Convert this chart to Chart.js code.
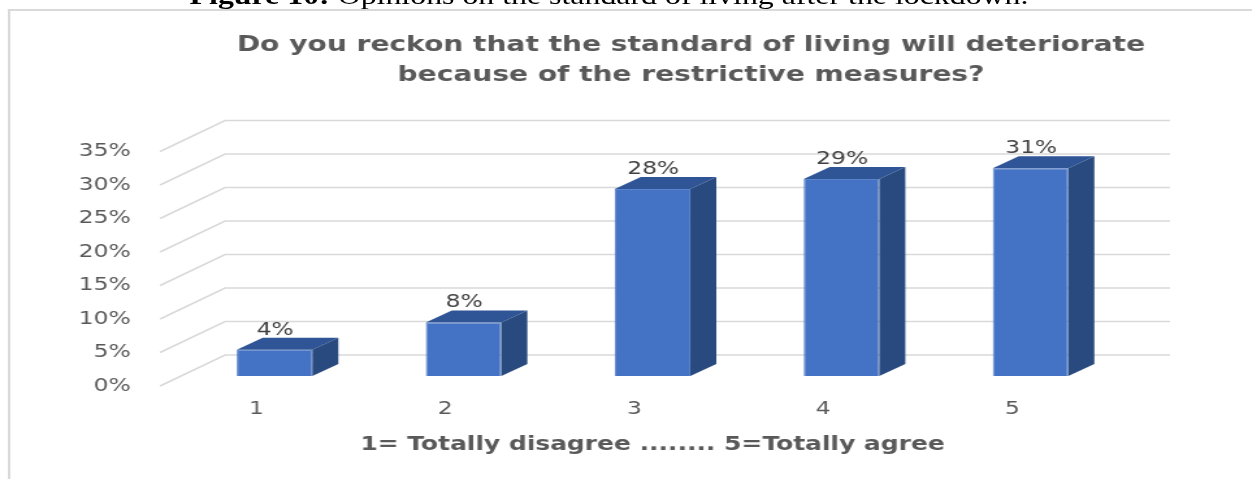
<!DOCTYPE html>
<html>
<head>
<meta charset="utf-8">
<script src="https://cdn.jsdelivr.net/npm/chart.js@4.4.1/dist/chart.umd.min.js"></script>
<style>
    html, body { margin: 0; padding: 0; background: #fff; overflow: hidden; }
    /* a imagem original está esticada na horizontal, por isso o palco é esticado também */
    #palco { position: absolute; left: 0; top: 0; width: 963px; height: 479px; transform: scaleX(1.3); transform-origin: 0 0; }
    #legenda { position: absolute; left: -13px; top: -16.5px; width: 963px; text-align: center; font: 24.5px/24.5px "Liberation Serif", serif; color: #000; white-space: nowrap; }
    #moldura { position: absolute; left: 6px; top: 9px; right: 0; bottom: 0; border-left: 2px solid #d9d9d9; border-top: 2px solid #d9d9d9; }
    /* a caixa passa da borda direita para o título ficar centrado como no original */
    #caixa { position: absolute; left: 0; top: 0; width: 1063px; height: 479px; }
</style>
</head>
<body>
<div id="palco">
    <div id="legenda"><b>Figure 10:</b> Opinions on the standard of living after the lockdown.</div>
    <div id="moldura"></div>
    <div id="caixa"><canvas id="graficoOpiniao"></canvas></div>
</div>
<script>
var categorias = ["1", "2", "3", "4", "5"];
var valores = [3.9, 8.0, 27.9, 29.4, 31.0];
var ticksY = [0, 5, 10, 15, 20, 25, 30, 35];

var tituloLinhas = [
    "Do you reckon that the standard of living will deteriorate",
    "because of the restrictive measures?"
];
var tituloEixoX = "1= Totally disagree ........ 5=Totally agree";

// profundidade do efeito 3D
var dx = 20;
var dy = -12;

var barras3d = {
    id: "barras3d",
    beforeDatasetsDraw: function (chart) {
        var ctx = chart.ctx;
        var area = chart.chartArea;
        var y = chart.scales.y;
        ctx.save();
        ctx.strokeStyle = "#d9d9d9";
        ctx.lineWidth = 1.5;
        for (var i = 0; i < ticksY.length; i++) {
            var py = y.getPixelForValue(ticksY[i]);
            ctx.beginPath();
            ctx.moveTo(area.left - 15.4, py + 10);
            ctx.lineTo(area.left + 34.6, py - 21);
            ctx.lineTo(area.right + 34.6, py - 21);
            ctx.stroke();
        }
        ctx.restore();
    },
    afterDatasetsDraw: function (chart) {
        var ctx = chart.ctx;
        var meta = chart.getDatasetMeta(0);
        ctx.save();
        for (var i = 0; i < meta.data.length; i++) {
            var p = meta.data[i].getProps(["x", "y", "base", "width"], true);
            var l = p.x - p.width / 2;
            var r = p.x + p.width / 2;
            var t = p.y;
            var b = p.base;

            // topo
            ctx.fillStyle = "#2f5597";
            ctx.beginPath();
            ctx.moveTo(l, t);
            ctx.lineTo(l + dx, t + dy);
            ctx.lineTo(r + dx, t + dy);
            ctx.lineTo(r, t);
            ctx.closePath();
            ctx.fill();

            // lado
            ctx.fillStyle = "#294a7f";
            ctx.beginPath();
            ctx.moveTo(r, t);
            ctx.lineTo(r + dx, t + dy);
            ctx.lineTo(r + dx, b + dy);
            ctx.lineTo(r, b);
            ctx.closePath();
            ctx.fill();

            // rótulo
            ctx.fillStyle = "#404040";
            ctx.font = "18px 'DejaVu Sans'";
            ctx.textAlign = "center";
            ctx.textBaseline = "middle";
            ctx.fillText(Math.round(valores[i]) + "%", p.x + 0.5, t - 20);
        }
        ctx.restore();
    }
};

const ctx1 = document.getElementById("graficoOpiniao");

new Chart(ctx1, {
    type: "bar",
    data: {
        labels: categorias,
        datasets: [{
            data: valores,
            backgroundColor: "#4472c4",
            borderColor: "#5b84cc",
            borderWidth: 1,
            categoryPercentage: 0.4,
            barPercentage: 1
        }]
    },
    options: {
        responsive: true,
        maintainAspectRatio: false,
        animation: false,
        layout: { padding: 0 },
        plugins: {
            legend: { display: false },
            tooltip: { enabled: false },
            title: {
                display: true,
                text: tituloLinhas,
                color: "#595959",
                font: { family: "DejaVu Sans", size: 21.6, weight: "bold", lineHeight: 30 / 21.6 },
                padding: { top: 30, bottom: 51.5 }
            }
        },
        scales: {
            x: {
                grid: { display: false, drawTicks: false },
                border: { display: false },
                ticks: {
                    color: "#595959",
                    font: { family: "DejaVu Sans", size: 18 },
                    padding: 23,
                    labelOffset: -14
                },
                title: {
                    display: true,
                    text: tituloEixoX,
                    color: "#595959",
                    font: { family: "DejaVu Sans", size: 19.2, weight: "bold" },
                    padding: { top: 0, bottom: 22.5 }
                },
                afterFit: function (s) { s.height = 103; }
            },
            y: {
                min: 0,
                max: 35,
                grid: { display: false, drawTicks: false },
                border: { display: false },
                ticks: {
                    stepSize: 5,
                    color: "#595959",
                    font: { family: "DejaVu Sans", size: 18 },
                    padding: 38,
                    labelOffset: 10,
                    callback: function (v) { return v + "%"; }
                },
                afterFit: function (s) { s.width = 138.5; }
            },
            yDireita: {
                position: "right",
                display: true,
                min: 0,
                max: 35,
                grid: { display: false, drawTicks: false },
                border: { display: false },
                ticks: { display: false },
                afterFit: function (s) { s.width = 197.6; }
            }
        }
    },
    plugins: [barras3d]
});
</script>
</body>
</html>
